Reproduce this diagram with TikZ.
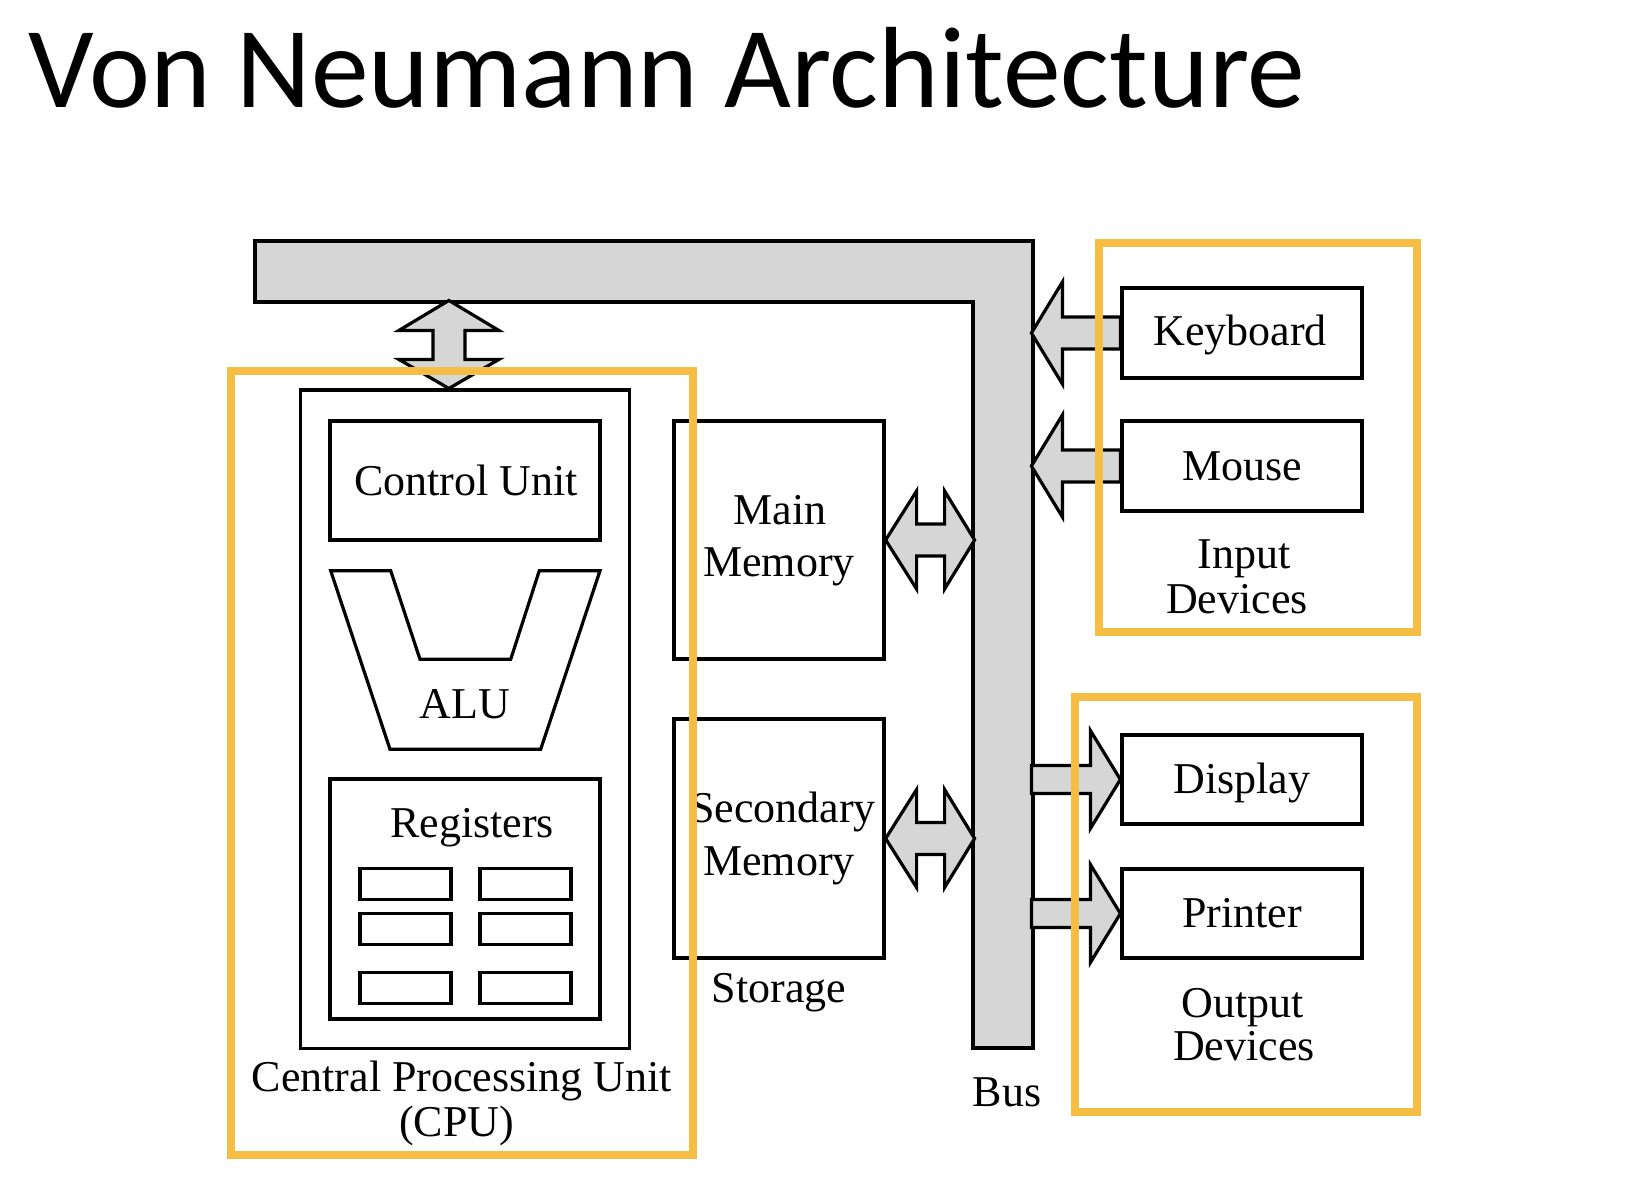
\documentclass[tikz,border=0pt]{standalone}
\usepackage{fontspec}
\setmainfont{Liberation Serif}
\newfontfamily\titlefont{Carlito}
\usetikzlibrary{calc}
\definecolor{frameorange}{RGB}{245,190,66}
\definecolor{busgray}{RGB}{214,214,214}
\begin{document}
\begin{tikzpicture}[x=0.5pt,y=-0.5pt,
  box/.style={draw=black, line width=1.6pt, inner sep=0pt, fill=white},
  block/.style={draw=black, line width=1.6pt, fill=busgray, line join=miter},
  frame/.style={draw=frameorange, line width=4pt, inner sep=0pt},
  lbl/.style={font=\fontsize{22}{26}\selectfont, inner sep=0pt, anchor=base},
  regbox/.style={box, minimum width=45.5pt, minimum height=15.5pt}]
\useasboundingbox (0,0) rectangle (1650,1180);
\fill[white] (0,0) rectangle (1650,1180);

% title
\node[anchor=base west, inner sep=0pt, font=\titlefont\fontsize{57.75}{64}\selectfont] (title) at (28,107.3) {Von Neumann Architecture};

% CPU and parts
\node[box, minimum width=164.5pt, minimum height=329.15pt] (cpu) at (465,719.2) {};
\node[box, minimum width=135pt, minimum height=59.5pt] (cu) at (465,480.5) {};
\node[box, minimum width=135pt, minimum height=120pt] (reg) at (465,899) {};
\node[regbox] (r1) at (405.5,884) {};
\node[regbox] (r2) at (525.5,884) {};
\node[regbox] (r3) at (405.5,928.7) {};
\node[regbox] (r4) at (525.5,928.7) {};
\node[regbox] (r5) at (405.5,988.3) {};
\node[regbox] (r6) at (525.5,988.3) {};
\draw[line width=1.6pt, line join=miter] (330.7,570.7) -- (390.7,570.7) -- (420,659.3) -- (510.7,659.3)
  -- (539.3,570.7) -- (600,570.7) -- (540.7,749.3) -- (390,749.3) -- cycle;

% memories
\node[box, minimum width=105pt, minimum height=119pt] (mm) at (779,540) {};
\node[box, minimum width=105pt, minimum height=119.5pt] (sm) at (779,838.5) {};

% devices
\node[box, minimum width=120pt, minimum height=45pt] (kbd) at (1242,333) {};
\node[box, minimum width=120pt, minimum height=45pt] (mouse) at (1242,466) {};
\node[box, minimum width=120pt, minimum height=44.5pt] (disp) at (1242,779.5) {};
\node[box, minimum width=120pt, minimum height=44.5pt] (prn) at (1242,913.5) {};

% bus
\draw[block] (255,241) -- (1033,241) -- (1033,1048) -- (973,1048) -- (973,302) -- (255,302) -- cycle;

% block arrows
\draw[block] ($(cpu.north west)+(150,0)$) -- ++(-50,-29) -- ++(34,0) -- ++(0,-29) -- ++(-34,0)
  -- ++(50,-30) -- ++(50,30) -- ++(-34,0) -- ++(0,29) -- ++(34,0) -- cycle;
\draw[block] (mm.east) -- ++(31,-49) -- ++(0,33) -- ++(28,0) -- ++(0,-33) -- ++(30,49)
  -- ++(-30,49) -- ++(0,-33) -- ++(-28,0) -- ++(0,33) -- cycle;
\draw[block] (sm.east) -- ++(31,-49) -- ++(0,33) -- ++(28,0) -- ++(0,-33) -- ++(30,49)
  -- ++(-30,49) -- ++(0,-33) -- ++(-28,0) -- ++(0,33) -- cycle;
\draw[block] (kbd.west) -- ++(0,-16) -- ++(-58,0) -- ++(0,-35) -- ++(-31,51) -- ++(31,51)
  -- ++(0,-35) -- ++(58,0) -- cycle;
\draw[block] (mouse.west) -- ++(0,-16) -- ++(-58,0) -- ++(0,-35) -- ++(-31,51) -- ++(31,51)
  -- ++(0,-35) -- ++(58,0) -- cycle;
\draw[block] (disp.west) -- ++(-30,-49) -- ++(0,35) -- ++(-59,0) -- ++(0,28) -- ++(59,0)
  -- ++(0,35) -- cycle;
\draw[block] (prn.west) -- ++(-30,-49) -- ++(0,35) -- ++(-59,0) -- ++(0,28) -- ++(59,0)
  -- ++(0,35) -- cycle;

% labels
\node[lbl] (tcu) at (466,495) {Control Unit};
\node[lbl] (talu) at (465,718) {ALU};
\node[lbl] (treg) at (472,837) {Registers};
\node[lbl] (tmain) at (780,524) {Main};
\node[lbl] (tmem1) at (779,576) {Memory};
\node[lbl] (tsec) at (783,822) {Secondary};
\node[lbl] (tmem2) at (779,875) {Memory};
\node[lbl] (tsto) at (779,1002) {Storage};
\node[lbl] (tbus) at (1007,1106) {Bus};
\node[lbl] (tkbd) at (1240,345) {Keyboard};
\node[lbl] (tmouse) at (1242,480) {Mouse};
\node[lbl] (tin) at (1244,568) {Input};
\node[lbl] (tindev) at (1237,613) {Devices};
\node[lbl] (tdisp) at (1242,793) {Display};
\node[lbl] (tprn) at (1242,927) {Printer};
\node[lbl] (tout) at (1243,1017) {Output};
\node[lbl] (toutdev) at (1244,1060) {Devices};
\node[lbl] (tcpu1) at (462,1091.7) {Central Processing Unit};
\node[lbl] (tcpu2) at (456.7,1136.7) {(CPU)};

% orange frames
\node[frame, minimum width=230.75pt, minimum height=391.75pt] (cpuframe) at (461.75,762.75) {};
\node[frame, minimum width=159.15pt, minimum height=194.5pt] (inframe) at (1257.9,437.5) {};
\node[frame, minimum width=171pt, minimum height=207.5pt] (outframe) at (1246,904.5) {};
\end{tikzpicture}
\end{document}
